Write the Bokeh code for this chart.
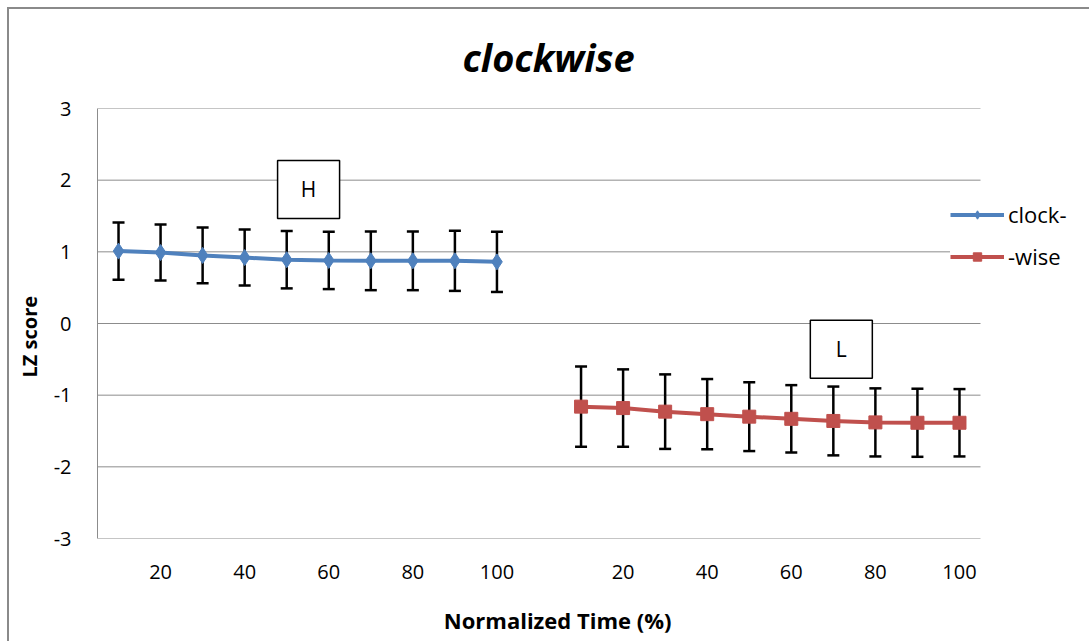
from bokeh.plotting import figure
from bokeh.models import Range1d, FixedTicker, Legend, LegendItem, Title
from bokeh.core.properties import value
from bokeh.embed import file_html
from bokeh.resources import INLINE

# ---- data ----
time_pct = [10, 20, 30, 40, 50, 60, 70, 80, 90, 100]
clock_mean = [1.01, 0.99, 0.95, 0.92, 0.89, 0.88, 0.875, 0.875, 0.875, 0.86]
clock_err = [0.40, 0.39, 0.39, 0.39, 0.40, 0.40, 0.41, 0.41, 0.42, 0.42]
wise_mean = [-1.16, -1.18, -1.23, -1.265, -1.30, -1.33, -1.36, -1.38, -1.385, -1.385]
wise_err = [0.56, 0.54, 0.52, 0.49, 0.48, 0.47, 0.48, 0.475, 0.475, 0.47]
shown_labels = [20, 40, 60, 80, 100]
y_ticks = [-3, -2, -1, 0, 1, 2, 3]

BLUE = "#4F81BD"
RED = "#C0504D"
GRID = "#8c8c8c"
FONT = "Open Sans"

# category slots: 10 for clock-, one empty, 10 for -wise
n = len(time_pct)
n_slots = 2 * n + 1
x_clock = [i + 0.5 for i in range(n)]
x_wise = [n + 1 + i + 0.5 for i in range(n)]

W, H = 1089, 641
ML, MT, MB = 97, 108, 103
PLOT_W = 883  # width in px of the 21 category slots
frame_w = W - ML
x_end = n_slots * frame_w / PLOT_W

p = figure(width=W, height=H, output_backend="svg", toolbar_location=None,
           x_range=Range1d(0, x_end), y_range=Range1d(-3, 3),
           min_border_left=ML, min_border_right=0, min_border_top=MT,
           min_border_bottom=MB)
# chart-area frame line (top and left edges visible in the window)
p.styles = {"box-shadow": "inset 7px 7px 0 0 white, inset 9px 9px 0 0 #8a8a8a"}
p.border_fill_color = None
p.outline_line_color = None
p.background_fill_color = "white"

# title
p.title = Title(text="clockwise", text_font=FONT, text_font_size="38px",
                text_font_style="bold italic", align="left", offset=365,
                text_color="black", standoff=52)

p.add_layout(Title(text="LZ score", text_font=FONT, text_font_size="20px",
                   text_font_style="bold", align="left", offset=161,
                   text_color="black", standoff=15), "left")

# axes
tick_pos = []
tick_lab = {}
for xs in (x_clock, x_wise):
    for xv, t in zip(xs, time_pct):
        if t in shown_labels:
            tick_pos.append(xv)
            tick_lab[xv] = str(t)
p.xaxis.ticker = FixedTicker(ticks=tick_pos)
p.xaxis.major_label_overrides = tick_lab
p.yaxis.ticker = FixedTicker(ticks=y_ticks)
p.yaxis.major_label_overrides = {t: str(t) for t in y_ticks}
for ax in (p.xaxis[0], p.yaxis[0]):
    ax.major_tick_line_color = None
    ax.minor_tick_line_color = None
    ax.major_label_text_font = FONT
    ax.major_label_text_font_size = "20px"
    ax.major_label_text_color = "black"
p.xaxis.axis_line_color = None
p.yaxis.axis_line_color = GRID
p.xaxis.major_label_standoff = 20
p.yaxis.major_label_standoff = 20

# x-axis title, centred on the chart area like the original
p.xaxis.axis_label = "Normalized Time (%)\u2003\u2003\u2003\u00a0"
p.xaxis.axis_label_text_font = FONT
p.xaxis.axis_label_text_font_size = "22px"
p.xaxis.axis_label_text_font_style = "bold"
p.xaxis.axis_label_text_color = "black"
p.xaxis.axis_label_standoff = 23

p.xgrid.grid_line_color = None
p.ygrid.grid_line_color = None

# horizontal gridlines spanning the category slots only
p.segment(x0=[0] * len(y_ticks), y0=y_ticks, x1=[n_slots] * len(y_ticks), y1=y_ticks,
          line_color=GRID, line_width=1)

# error bars (drawn below series)
for xs, m, e in ((x_clock, clock_mean, clock_err), (x_wise, wise_mean, wise_err)):
    lo = [a - b for a, b in zip(m, e)]
    hi = [a + b for a, b in zip(m, e)]
    p.segment(x0=xs, y0=lo, x1=xs, y1=hi, line_color="black", line_width=2.5)
    p.scatter(x=xs + xs, y=lo + hi, marker="dash", size=12, line_color="black",
              line_width=2.5)

# series
l1 = p.line(x_clock, clock_mean, line_color=BLUE, line_width=4)
m1 = p.scatter(x_clock, clock_mean, marker="diamond", size=16, fill_color=BLUE,
               line_color=BLUE)
l2 = p.line(x_wise, wise_mean, line_color=RED, line_width=4)
m2 = p.scatter(x_wise, wise_mean, marker="square", size=13, fill_color=RED,
               line_color=RED)

# H / L boxes
p.rect(x=[5.02, 17.69], y=[1.87, -0.36], width=62, height=58,
       width_units="screen", height_units="screen", fill_color="white",
       line_color="black", line_width=1.5)
p.text(x=[5.02, 17.69], y=[1.87, -0.36], text=["H", "L"], text_align="center",
       text_baseline="middle", text_font=value(FONT), text_font_size="21px",
       text_color="black")

legend = Legend(items=[LegendItem(label="clock-", renderers=[l1, m1]),
                       LegendItem(label="-wise", renderers=[l2, m2])],
                location=(853, 267), orientation="vertical")
legend.glyph_width = 54
legend.glyph_height = 21
legend.label_height = 21
legend.spacing = 12
legend.padding = 5
legend.margin = 0
legend.label_standoff = 4
legend.label_text_font = FONT
legend.label_text_font_size = "22px"
legend.label_text_color = "black"
legend.border_line_color = None
legend.background_fill_color = "white"
legend.background_fill_alpha = 1
p.add_layout(legend, "center")

open("out.html", "w").write(file_html(p, INLINE))
